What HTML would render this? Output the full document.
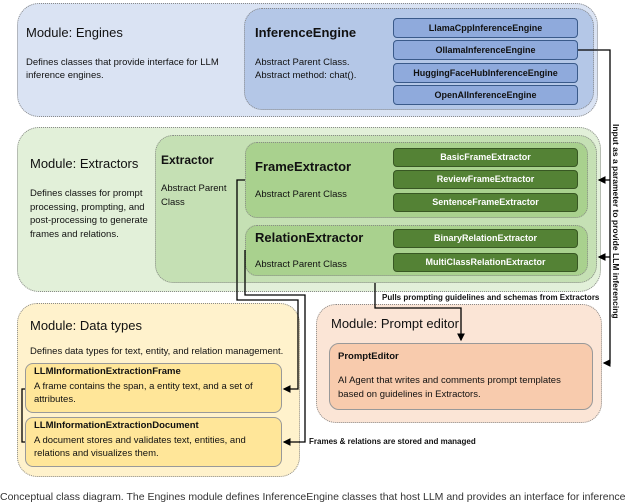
<!DOCTYPE html>
<html><head><meta charset="utf-8"><style>
body{margin:0;width:640px;height:497px;overflow:hidden;background:#fff;font-family:"Liberation Sans",sans-serif;position:relative}
.b{position:absolute;box-sizing:border-box;border:1px dotted #8a8a8a}
.t{position:absolute;white-space:nowrap;color:#111}
.sub{position:absolute;box-sizing:border-box;border:1px solid #3a5a8a;border-radius:4px;background:#8faadc;font-weight:bold;font-size:9px;text-align:center;color:#111}
.g{background:#548235;border-color:#385723;color:#fff}
</style></head><body>
<div class="b" style="left:17px;top:3px;width:581px;height:114px;background:#dae3f3;border-radius:22px"></div>
<div class="b" style="left:244px;top:8px;width:350px;height:102px;background:#b4c7e7;border-radius:18px"></div>
<div class="t" style="left:26px;top:25px;font-size:13px">Module: Engines</div>
<div class="t" style="left:26px;top:56px;font-size:9.5px;line-height:13px">Defines classes that provide interface for LLM<br>inference engines.</div>
<div class="t" style="left:255px;top:25px;font-size:13px;font-weight:bold">InferenceEngine</div>
<div class="t" style="left:255px;top:56px;font-size:9.5px;line-height:13px">Abstract Parent Class.<br>Abstract method: chat().</div>
<div class="sub" style="left:393px;top:18px;width:185px;height:20px;line-height:18px">LlamaCppInferenceEngine</div>
<div class="sub" style="left:393px;top:40px;width:185px;height:20px;line-height:18px">OllamaInferenceEngine</div>
<div class="sub" style="left:393px;top:63px;width:185px;height:20px;line-height:18px">HuggingFaceHubInferenceEngine</div>
<div class="sub" style="left:393px;top:85px;width:185px;height:20px;line-height:18px">OpenAIInferenceEngine</div>
<div class="b" style="left:17px;top:127px;width:584px;height:165px;background:#e2f0d9;border-radius:22px"></div>
<div class="b" style="left:155px;top:135px;width:442px;height:148px;background:#c5e0b4;border-radius:18px"></div>
<div class="b" style="left:245px;top:142px;width:343px;height:76px;background:#a9d18e;border-radius:12px"></div>
<div class="b" style="left:245px;top:225px;width:343px;height:51px;background:#a9d18e;border-radius:12px"></div>
<div class="t" style="left:30px;top:156px;font-size:13px">Module: Extractors</div>
<div class="t" style="left:30px;top:187px;font-size:9.5px;line-height:13.5px">Defines classes for prompt<br>processing, prompting, and<br>post-processing to generate<br>frames and relations.</div>
<div class="t" style="left:161px;top:153px;font-size:12px;font-weight:bold">Extractor</div>
<div class="t" style="left:161px;top:182px;font-size:9.5px;line-height:13.5px">Abstract Parent<br>Class</div>
<div class="t" style="left:255px;top:159px;font-size:13px;font-weight:bold">FrameExtractor</div>
<div class="t" style="left:255px;top:189px;font-size:9.5px">Abstract Parent Class</div>
<div class="t" style="left:255px;top:230px;font-size:13px;font-weight:bold">RelationExtractor</div>
<div class="t" style="left:255px;top:259px;font-size:9.5px">Abstract Parent Class</div>
<div class="sub g" style="left:393px;top:148px;width:185px;height:19px;line-height:17px">BasicFrameExtractor</div>
<div class="sub g" style="left:393px;top:170px;width:185px;height:19px;line-height:17px">ReviewFrameExtractor</div>
<div class="sub g" style="left:393px;top:193px;width:185px;height:19px;line-height:17px">SentenceFrameExtractor</div>
<div class="sub g" style="left:393px;top:229px;width:185px;height:19px;line-height:17px">BinaryRelationExtractor</div>
<div class="sub g" style="left:393px;top:253px;width:185px;height:19px;line-height:17px">MultiClassRelationExtractor</div>
<div class="b" style="left:17px;top:303px;width:283px;height:174px;background:#fff2cc;border-radius:20px"></div>
<div class="b" style="left:25px;top:363px;width:257px;height:50px;background:#ffe699;border-radius:8px;border:1px solid #999"></div>
<div class="b" style="left:25px;top:417px;width:257px;height:50px;background:#ffe699;border-radius:8px;border:1px solid #999"></div>
<div class="t" style="left:30px;top:318px;font-size:13px">Module: Data types</div>
<div class="t" style="left:30px;top:346px;font-size:9.5px">Defines data types for text, entity, and relation management.</div>
<div class="t" style="left:34px;top:366px;font-size:9.5px;font-weight:bold">LLMInformationExtractionFrame</div>
<div class="t" style="left:34px;top:380px;font-size:9.5px;line-height:13px">A frame contains the span, a entity text, and a set of<br>attributes.</div>
<div class="t" style="left:34px;top:420px;font-size:9.5px;font-weight:bold">LLMInformationExtractionDocument</div>
<div class="t" style="left:34px;top:434px;font-size:9.5px;line-height:13px">A document stores and validates text, entities, and<br>relations and visualizes them.</div>
<div class="b" style="left:316px;top:304px;width:286px;height:119px;background:#fbe5d6;border-radius:20px"></div>
<div class="b" style="left:329px;top:343px;width:264px;height:67px;background:#f8cbad;border-radius:10px;border:1px solid #999"></div>
<div class="t" style="left:331px;top:316px;font-size:13px">Module: Prompt editor</div>
<div class="t" style="left:338px;top:351px;font-size:9.5px;font-weight:bold">PromptEditor</div>
<div class="t" style="left:338px;top:374px;font-size:9.5px;line-height:14px">AI Agent that writes and comments prompt templates<br>based on guidelines in Extractors.</div>
<div class="t" style="left:382px;top:293px;font-size:8px;font-weight:bold">Pulls prompting guidelines and schemas from Extractors</div>
<div class="t" style="left:309px;top:437px;font-size:8px;font-weight:bold">Frames &amp; relations are stored and managed</div>
<div class="t" style="left:621px;top:124px;font-size:8.5px;font-weight:bold;transform-origin:0 0;transform:rotate(90deg)">Input as a parameter to provide LLM inferencing</div>
<div class="t" style="left:0px;top:491px;font-size:10.5px;color:#333">Conceptual class diagram. The Engines module defines InferenceEngine classes that host LLM and provides an interface for inference</div>
<svg width="640" height="497" style="position:absolute;left:0;top:0" fill="none" stroke="#000" stroke-width="1.3">
<defs><marker id="a" markerWidth="6" markerHeight="6" refX="5" refY="3" orient="auto"><path d="M0,0L6,3L0,6z" fill="#000" stroke="none"/></marker></defs>
<path d="M578 50H610V363H604" marker-end="url(#a)"/>
<path d="M610 180H599" marker-end="url(#a)"/>
<path d="M610 257H599" marker-end="url(#a)"/>
<path d="M245 180H237V300H298V389H284" marker-end="url(#a)"/>
<path d="M245 250V295H305V442H284" marker-end="url(#a)"/>
<path d="M375 283V308H461V340" marker-end="url(#a)"/>
<path d="M25 389H22V442H25"/>
</svg>
</body></html>
